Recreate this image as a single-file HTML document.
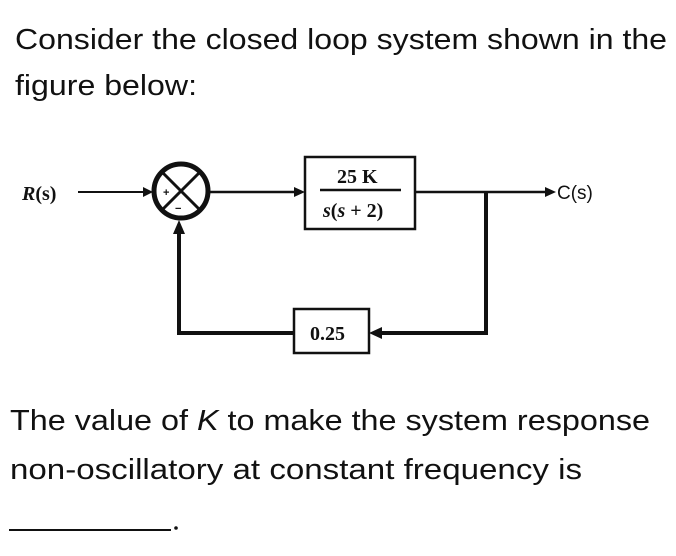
<!DOCTYPE html>
<html><head><meta charset="utf-8"><style>
html,body{margin:0;padding:0;background:#fff;}
svg{display:block;}
</style></head><body>
<svg width="676" height="556" viewBox="0 0 676 556" xmlns="http://www.w3.org/2000/svg">
<g font-family="Liberation Sans, sans-serif" font-size="29" fill="#111">
<text x="15" y="49" textLength="652" lengthAdjust="spacingAndGlyphs">Consider the closed loop system shown in the</text>
<text x="15" y="95" textLength="182" lengthAdjust="spacingAndGlyphs">figure below:</text>
<text x="10" y="430" textLength="640" lengthAdjust="spacingAndGlyphs">The value of <tspan font-style="italic">K</tspan> to make the system response</text>
<text x="10" y="479" textLength="572" lengthAdjust="spacingAndGlyphs">non-oscillatory at constant frequency is</text>
</g>
<line x1="9" y1="530" x2="171" y2="530" stroke="#111" stroke-width="2"/>
<circle cx="176" cy="528" r="1.8" fill="#111"/>
<g stroke="#111" fill="none">
<line x1="78" y1="192" x2="146" y2="192" stroke-width="2"/>
<circle cx="181" cy="191" r="27" stroke-width="5"/>
<line x1="162" y1="172" x2="200" y2="210" stroke-width="3"/>
<line x1="200" y1="172" x2="162" y2="210" stroke-width="3"/>
<line x1="208" y1="192" x2="296" y2="192" stroke-width="2.5"/>
<rect x="305" y="157" width="110" height="72" stroke-width="2.5"/>
<line x1="320" y1="190" x2="401" y2="190" stroke-width="2.5"/>
<line x1="415" y1="192" x2="546" y2="192" stroke-width="2.5"/>
<polyline points="486,192 486,333 380,333" stroke-width="4"/>
<rect x="294" y="309" width="75" height="44" stroke-width="2.5"/>
<polyline points="294,333 179,333 179,230" stroke-width="4"/>
</g>
<g fill="#111">
<polygon points="153,192 143,187 143,197"/>
<polygon points="305,192 294,187 294,197"/>
<polygon points="556,192 545,187 545,197"/>
<polygon points="369,333 382,327 382,339"/>
<polygon points="179,220 173,234 185,234"/>
</g>
<g font-size="11" font-family="Liberation Sans, sans-serif" font-weight="bold" fill="#111">
<text x="163" y="196">+</text>
<text x="175" y="212">−</text>
</g>
<g font-family="Liberation Serif, serif" font-weight="bold" fill="#111">
<text x="22" y="200" font-size="20"><tspan font-style="italic">R</tspan>(s)</text>
<text x="337" y="183" font-size="20">25 K</text>
<text x="323" y="217" font-size="20"><tspan font-style="italic">s</tspan>(<tspan font-style="italic">s</tspan> + 2)</text>
<text x="310" y="340" font-size="20">0.25</text>
</g>
<text x="557" y="199" font-family="Liberation Sans, sans-serif" font-size="19" fill="#111">C(s)</text>
</svg>
</body></html>
